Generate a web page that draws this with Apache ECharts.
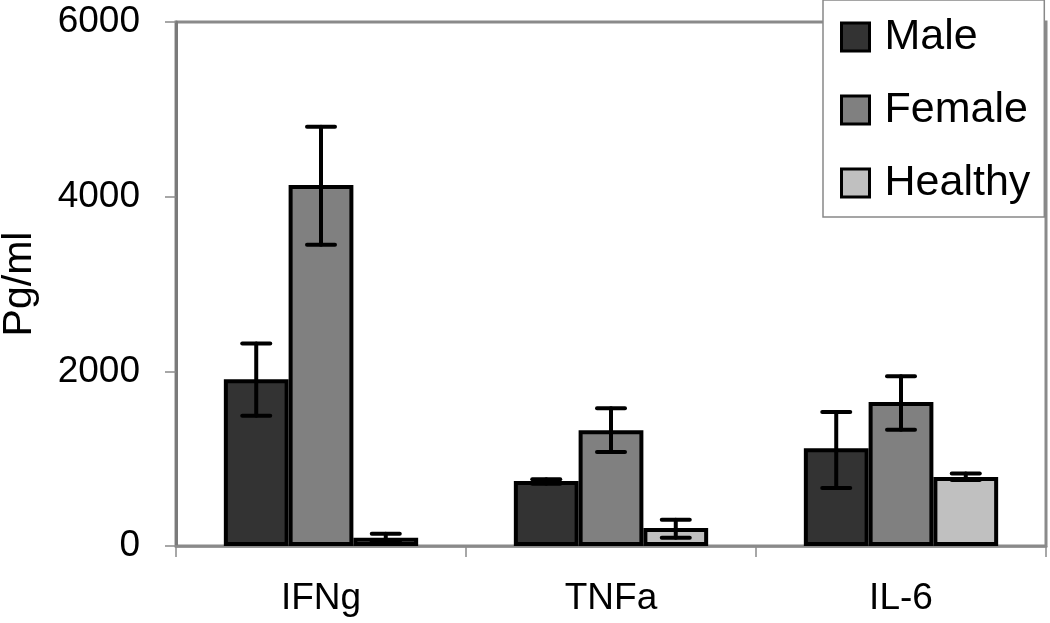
<!DOCTYPE html>
<html>
<head>
<meta charset="utf-8">
<script src="https://cdn.jsdelivr.net/npm/echarts@6/dist/echarts.min.js"></script>
<style>
  html, body { margin: 0; padding: 0; background: #fff; }
  #chart { width: 1050px; height: 623px; }
</style>
</head>
<body>
<div id="chart"></div>
<script>
// ---- Data ----
const categories = ['IFNg', 'TNFa', 'IL-6'];
const seriesNames = ['Male', 'Female', 'Healthy'];
const maleValues = [1910, 745, 1120];
const femaleValues = [4135, 1326, 1650];
const healthyValues = [95, 205, 790];
const maleErrLow = [1490, 712, 665];
const maleErrHigh = [2320, 765, 1535];
const femaleErrLow = [3450, 1075, 1330];
const femaleErrHigh = [4800, 1577, 1945];
const healthyErrLow = [55, 95, 755];
const healthyErrHigh = [140, 300, 830];
const yTicks = [0, 2000, 4000, 6000];

const colors = ['#333333', '#808080', '#c0c0c0'];
const FONT = "'Liberation Sans', Arial, sans-serif";
const groupFill = 0.67; // fraction of category band occupied by the 3 bars

const values = [maleValues, femaleValues, healthyValues];
const errLow = [maleErrLow, femaleErrLow, healthyErrLow];
const errHigh = [maleErrHigh, femaleErrHigh, healthyErrHigh];

function errorSeries(idx) {
  const data = categories.map((c, i) => [i, errLow[idx][i], errHigh[idx][i]]);
  return {
    type: 'custom',
    name: seriesNames[idx] + ' err',
    z: 10,
    silent: true,
    data: data,
    encode: { x: 0, y: [1, 2] },
    renderItem: function (params, api) {
      const ci = api.value(0);
      const lo = api.coord([ci, api.value(1)]);
      const hi = api.coord([ci, api.value(2)]);
      const band = api.size([1, 0])[0];
      const barW = band * groupFill / 3;
      const x = lo[0] + (idx - 1) * barW;
      const capHalf = 14;
      const style = { stroke: '#000', lineWidth: 4, fill: null, lineCap: 'round' };
      return {
        type: 'group',
        children: [
          { type: 'line', shape: { x1: x, y1: lo[1], x2: x, y2: hi[1] }, style: style },
          { type: 'line', shape: { x1: x - capHalf, y1: lo[1], x2: x + capHalf, y2: lo[1] }, style: style },
          { type: 'line', shape: { x1: x - capHalf, y1: hi[1], x2: x + capHalf, y2: hi[1] }, style: style }
        ]
      };
    }
  };
}

const barSeries = seriesNames.map((n, idx) => ({
  type: 'bar',
  name: n,
  data: values[idx],
  barGap: '0%',
  barCategoryGap: ((1 - groupFill) * 100).toFixed(1) + '%',
  itemStyle: { color: colors[idx], borderColor: '#000', borderWidth: 4 },
  z: 2
}));

const chart = echarts.init(document.getElementById('chart'), null, { renderer: 'canvas' });
chart.setOption({
  animation: false,
  backgroundColor: '#fff',
  textStyle: { fontFamily: FONT },
  grid: {
    left: 176, right: 4, top: 22, bottom: 77,
    containLabel: false,
    outerBoundsMode: 'none',
    show: true, borderColor: '#8a8a8a', borderWidth: 3, backgroundColor: 'transparent'
  },
  legend: {
    data: seriesNames,
    orient: 'vertical',
    left: 823, top: 0,
    padding: [15, 14, 12, 17],
    backgroundColor: '#fff',
    borderColor: '#888',
    borderWidth: 1.5,
    borderRadius: 0,
    itemWidth: 28, itemHeight: 28,
    itemGap: 29,
    icon: 'rect',
    itemStyle: { borderColor: '#000', borderWidth: 3 },
    textStyle: { fontFamily: FONT, fontSize: 43, color: '#000', lineHeight: 44, padding: [0, 0, 0, 10] },
    z: 20
  },
  xAxis: {
    type: 'category',
    data: categories,
    axisLine: { show: true, lineStyle: { color: '#8a8a8a', width: 2.5 } },
    axisTick: { show: true, length: 11, lineStyle: { color: '#8a8a8a', width: 1.5 } },
    axisLabel: { fontFamily: FONT, fontSize: 37, color: '#000', margin: 34 },
    splitLine: { show: false }
  },
  yAxis: {
    type: 'value',
    min: yTicks[0], max: yTicks[yTicks.length - 1], interval: yTicks[1] - yTicks[0],
    name: 'Pg/ml',
    nameLocation: 'middle',
    nameGap: 136,
    nameRotate: 90,
    nameTextStyle: { fontFamily: FONT, fontSize: 41, color: '#000' },
    axisLine: { show: true, lineStyle: { color: '#7a7a7a', width: 3 } },
    axisTick: { show: true, length: 11, lineStyle: { color: '#8a8a8a', width: 1.5 } },
    axisLabel: { fontFamily: FONT, fontSize: 37, color: '#000', margin: 36, formatter: function (v) { return String(v); } },
    splitLine: { show: false }
  },
  series: barSeries.concat([0, 1, 2].map(errorSeries))
});
</script>
</body>
</html>
